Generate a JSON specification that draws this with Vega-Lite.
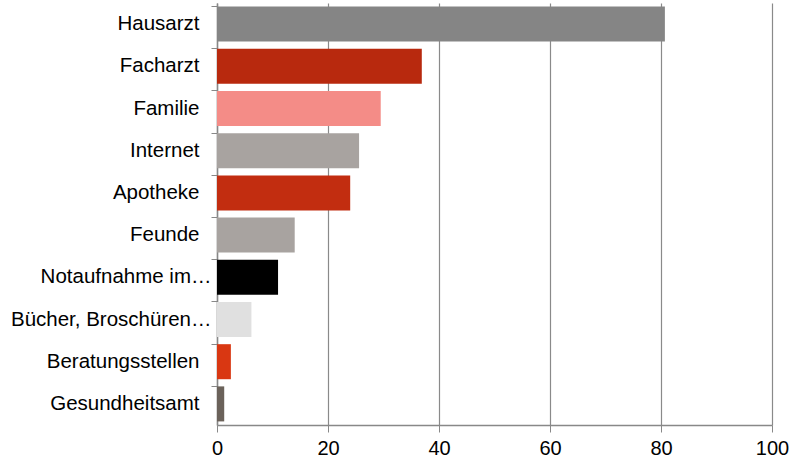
{
  "$schema": "https://vega.github.io/schema/vega-lite/v6.json",
  "width": 555,
  "height": 422,
  "autosize": {"type": "none"},
  "padding": {"left": 217, "top": 3, "right": 21, "bottom": 41},
  "background": "white",
  "config": {
    "view": {"stroke": null},
    "font": "Liberation Sans"
  },
  "data": {
    "values": [
      {"quelle": "Hausarzt", "wert": 80.7},
      {"quelle": "Facharzt", "wert": 36.9},
      {"quelle": "Familie", "wert": 29.5},
      {"quelle": "Internet", "wert": 25.6},
      {"quelle": "Apotheke", "wert": 24.0},
      {"quelle": "Feunde", "wert": 14.0},
      {"quelle": "Notaufnahme im…", "wert": 11.0},
      {"quelle": "Bücher, Broschüren…", "wert": 6.2},
      {"quelle": "Beratungsstellen", "wert": 2.5},
      {"quelle": "Gesundheitsamt", "wert": 1.3}
    ]
  },
  "mark": {"type": "bar"},
  "encoding": {
    "y": {
      "field": "quelle",
      "type": "nominal",
      "sort": null,
      "title": null,
      "scale": {"paddingInner": 0.17, "paddingOuter": 0.085},
      "axis": {
        "bandPosition": 0,
        "tickSize": 6,
        "tickColor": "#888888",
        "domainColor": "#888888",
        "domainWidth": 1.5,
        "labelFontSize": 20.5,
        "labelColor": "#000000",
        "labelPadding": {"condition": {"test": "indexof(datum.label, '…') >= 0", "value": 0}, "value": 12},
        "labelLimit": 230,
        "grid": false
      }
    },
    "x": {
      "field": "wert",
      "type": "quantitative",
      "title": null,
      "scale": {"domain": [0, 100], "nice": false},
      "axis": {
        "values": [0, 20, 40, 60, 80, 100],
        "tickSize": 7,
        "tickColor": "#888888",
        "domainColor": "#888888",
        "domainWidth": 1.5,
        "gridColor": "#8a8a8a",
        "gridWidth": 1.2,
        "labelFontSize": 20,
        "labelColor": "#000000",
        "labelPadding": 6,
        "labelFlush": false
      }
    },
    "color": {
      "field": "quelle",
      "type": "nominal",
      "legend": null,
      "scale": {
        "domain": ["Hausarzt", "Facharzt", "Familie", "Internet", "Apotheke", "Feunde", "Notaufnahme im…", "Bücher, Broschüren…", "Beratungsstellen", "Gesundheitsamt"],
        "range": ["#858585", "#B8290E", "#F48C87", "#A8A3A0", "#C22D10", "#A8A3A0", "#000000", "#E0E0E0", "#D93712", "#6B625A"]
      }
    }
  }
}
